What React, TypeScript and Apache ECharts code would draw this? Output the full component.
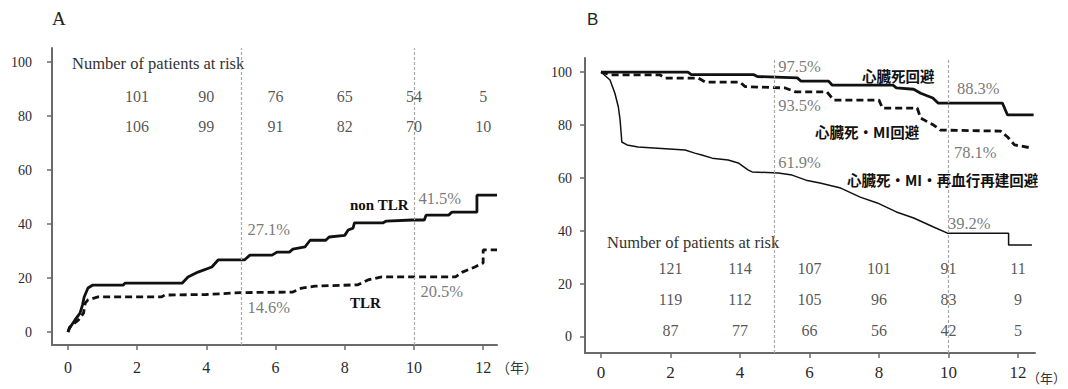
import React, { useEffect, useRef } from "react";
import * as echarts from "echarts";

// ---- ticks ----
const xTicks = [0, 2, 4, 6, 8, 10, 12];
const yTicks = [0, 20, 40, 60, 80, 100];
const landmarkYears = [5, 10];
const riskYears = [2, 4, 6, 8, 10, 12];

// ---- Panel A: cumulative incidence (%) ----
const nonTLR: number[][] = [
  [0, 0], [0.05, 1.5], [0.2, 4.4], [0.35, 7], [0.42, 10], [0.47, 13], [0.58, 16.3], [0.72, 17.4],
  [1.6, 17.4], [1.65, 18.1], [3.3, 18.1], [3.47, 20.4], [3.76, 22.2], [4.16, 24.1], [4.34, 26.7],
  [5.1, 26.7], [5.26, 28.5], [5.9, 28.5], [6.04, 29.6], [6.4, 29.6], [6.5, 30.7], [6.85, 31.5],
  [7.0, 34], [7.45, 34], [7.55, 35.2], [8.0, 35.8], [8.1, 37.8], [8.24, 38.5], [8.28, 40.4],
  [9.1, 40.4], [9.2, 41.1], [9.95, 41.5], [10.3, 41.5], [10.35, 43.3], [11.0, 43.3], [11.1, 44.4],
  [11.82, 44.4], [11.82, 50.7], [12.4, 50.7],
];
const tlr: number[][] = [
  [0, 0], [0.05, 1.8], [0.3, 4.4], [0.45, 7], [0.5, 10.7], [0.58, 11.9], [0.87, 13], [2.7, 13],
  [2.8, 13.7], [4.0, 13.9], [5.0, 14.6], [6.5, 14.8], [6.76, 16.3], [7.14, 17], [8.38, 17.5],
  [8.67, 19.3], [9.07, 20.4], [11.2, 20.4], [11.4, 22.2], [11.76, 24.1], [12.0, 25.6],
  [12.0, 30.4], [12.4, 30.4],
];
const nonTLRPct = [27.1, 41.5];
const tlrPct = [14.6, 20.5];
const riskA1 = [101, 90, 76, 65, 54, 5];
const riskA2 = [106, 99, 91, 82, 70, 10];

// ---- Panel B: event-free survival (%) ----
const cardiacFree: number[][] = [
  [0, 100], [2.5, 100], [2.6, 99], [4.4, 99], [4.5, 98.3], [5.65, 97.8], [5.75, 96.6], [6.55, 96.6],
  [6.65, 95.1], [8.4, 95.1], [8.5, 94], [9.0, 93.5], [9.2, 92], [9.55, 90.2], [9.7, 88.3],
  [11.55, 88.3], [11.7, 83.8], [12.45, 83.8],
];
const cardiacMIFree: number[][] = [
  [0, 100], [0.3, 98.9], [1.7, 98.9], [1.85, 97.7], [2.8, 97.7], [3.0, 96.2], [4.0, 96.2],
  [4.15, 94.5], [5.3, 94], [5.6, 92.5], [6.5, 92.5], [6.7, 89.4], [8.0, 89.4], [8.1, 86.4],
  [9.1, 86.4], [9.2, 82.6], [9.57, 80], [9.77, 78.1], [11.5, 77.7], [11.7, 75.5], [11.9, 72.5],
  [12.4, 71.3],
];
const maceFree: number[][] = [
  [0, 100], [0.26, 97], [0.4, 92], [0.5, 86.8], [0.55, 81.9], [0.6, 73.6], [0.75, 72.5],
  [1.07, 71.7], [2.42, 70.6], [2.7, 69.4], [2.9, 68.7], [3.2, 67.5], [3.66, 66.8], [3.95, 65.7],
  [4.24, 63], [4.35, 62.3], [5.1, 61.9], [5.5, 61.1], [5.9, 59.2], [6.3, 58.1], [6.9, 56.2],
  [7.46, 52.8], [7.95, 50.6], [8.5, 47.2], [9.0, 44.9], [9.57, 41.5], [9.97, 39.2],
  [11.73, 39.2], [11.73, 34.7], [12.4, 34.7],
];
const cardiacPct = [97.5, 88.3];
const cardiacMIPct = [93.5, 78.1];
const macePct = [61.9, 39.2];
const riskB1 = [121, 114, 107, 101, 91, 11];
const riskB2 = [119, 112, 105, 96, 83, 9];
const riskB3 = [87, 77, 66, 56, 42, 5];

const SERIF = '"Liberation Serif", "Times New Roman", serif';
const SANS = '"Liberation Sans", Arial, sans-serif';
const CJK = '"Noto Sans CJK JP", "Noto Sans", sans-serif';

function App() {
  const ref = useRef<HTMLDivElement>(null);

  useEffect(() => {
    if (!ref.current) return;
    const chart = echarts.init(ref.current, null, { renderer: "svg" });

    const axisColor = "#6a6a6a";

    const xAxisCfg = (gridIndex: number, max: number, fontSize: number, margin: number) => ({
      type: "value",
      gridIndex,
      min: -0.46,
      max,
      axisLine: { show: true, onZero: false, lineStyle: { color: axisColor, width: 2 } },
      axisTick: { show: true, customValues: xTicks, length: 5, lineStyle: { color: axisColor, width: 1.5 } },
      axisLabel: { show: true, customValues: xTicks, fontFamily: SERIF, fontSize, color: "#2a2a2a", margin },
      splitLine: { show: false },
    });
    const yAxisCfg = (gridIndex: number, min: number, max: number, margin: number) => ({
      type: "value",
      gridIndex,
      min,
      max,
      axisLine: { show: true, onZero: false, lineStyle: { color: axisColor, width: 2 } },
      axisTick: { show: true, customValues: yTicks, length: 5, lineStyle: { color: axisColor, width: 1.5 } },
      axisLabel: { show: true, customValues: yTicks, fontFamily: SERIF, fontSize: 14, color: "#2a2a2a", margin },
      splitLine: { show: false },
    });

    const landmark = {
      silent: true,
      symbol: "none",
      label: { show: false },
      lineStyle: { color: "#a8a8a8", type: [3, 2], width: 1.2 },
      data: landmarkYears.map((x) => ({ xAxis: x })),
    };

    const curve = (name: string, data: number[][], grid: number, width: number, dashed: boolean, withMark: boolean) => ({
      name,
      type: "line",
      xAxisIndex: grid,
      yAxisIndex: grid,
      data,
      symbol: "none",
      z: 3,
      lineStyle: { color: "#111", width, type: dashed ? [7, 4] : "solid" },
      ...(withMark ? { markLine: landmark } : {}),
    });

    const pctSeries = (grid: number, values: number[], offsets: number[][]) => ({
      type: "scatter",
      xAxisIndex: grid,
      yAxisIndex: grid,
      symbolSize: 1,
      itemStyle: { color: "transparent" },
      silent: true,
      z: 5,
      data: values.map((v, i) => ({
        value: [landmarkYears[i], v],
        label: {
          show: true,
          position: "right",
          distance: 0,
          offset: offsets[i],
          formatter: `${v}%`,
          fontFamily: SERIF,
          fontSize: 16.5,
          color: "#555",
        },
      })),
    });

    const riskSeries = (grid: number, values: number[], rowY: number) => ({
      type: "scatter",
      xAxisIndex: grid,
      yAxisIndex: grid,
      symbolSize: 1,
      itemStyle: { color: "transparent" },
      silent: true,
      z: 5,
      data: values.map((n, i) => [riskYears[i], rowY, n]),
      label: {
        show: true,
        position: "inside",
        formatter: (p: any) => String(p.value[2]),
        fontFamily: SERIF,
        fontSize: 16,
        color: "#2a2a2a",
      },
    });

    const txt = (x: number, y: number, text: string, font: string, fill = "#222") => ({
      type: "text",
      x,
      y,
      silent: true,
      style: { text, font, fill, textAlign: "left", textVerticalAlign: "middle", align: "left", verticalAlign: "middle" },
    });

    const option: any = {
      animation: false,
      backgroundColor: "#fff",
      grid: [
        { left: 52, top: 48, width: 445, height: 297 },
        { left: 585, top: 58, width: 450, height: 295 },
      ],
      xAxis: [xAxisCfg(0, 12.4, 16, 14), xAxisCfg(1, 12.49, 17, 11)],
      yAxis: [yAxisCfg(0, -4.8, 105.2, 20), yAxisCfg(1, -6.04, 105.3, 13)],
      series: [
        curve("non TLR", nonTLR, 0, 2.8, false, true),
        curve("TLR", tlr, 0, 2.8, true, false),
        pctSeries(0, nonTLRPct, [[6, -29], [4, -21]]),
        pctSeries(0, tlrPct, [[6, 15], [6, 15]]),
        riskSeries(0, riskA1, 87.4),
        riskSeries(0, riskA2, 76.3),

        curve("心臓死回避", cardiacFree, 1, 2.8, false, true),
        curve("心臓死・MI回避", cardiacMIFree, 1, 2.8, true, false),
        curve("心臓死・MI・再血行再建回避", maceFree, 1, 1.5, false, false),
        pctSeries(1, cardiacPct, [[3, -12], [8, -15]]),
        pctSeries(1, cardiacMIPct, [[3, 16], [5, 22]]),
        pctSeries(1, macePct, [[3, -10], [-1, -10]]),
        riskSeries(1, riskB1, 26),
        riskSeries(1, riskB2, 14),
        riskSeries(1, riskB3, 2.6),
      ],
      graphic: [
        txt(52, 18, "A", `19px ${SERIF}`),
        txt(587, 19, "B", `17px ${SANS}`),
        txt(72, 63, "Number of patients at risk", `16.5px ${SERIF}`, "#333"),
        txt(607, 242, "Number of patients at risk", `16.5px ${SERIF}`, "#333"),
        txt(350, 205, "non TLR", `bold 15px ${SERIF}`, "#111"),
        txt(350, 303, "TLR", `bold 15px ${SERIF}`, "#111"),
        txt(862, 75, "心臓死回避", `bold 14.5px ${CJK}`, "#111"),
        txt(815, 131, "心臓死・MI回避", `bold 14.5px ${CJK}`, "#111"),
        txt(847, 179, "心臓死・MI・再血行再建回避", `bold 14.5px ${CJK}`, "#111"),
        txt(496, 367, "（年）", `14px ${CJK}`, "#333"),
        txt(1027, 377, "（年）", `13px ${CJK}`, "#333"),
      ],
    };

    chart.setOption(option);
    return () => chart.dispose();
  }, []);

  return (
    <div
      ref={ref}
      style={{ position: "fixed", left: 0, top: 0, width: 1068, height: 389, background: "#fff" }}
    />
  );
}

export default App;
